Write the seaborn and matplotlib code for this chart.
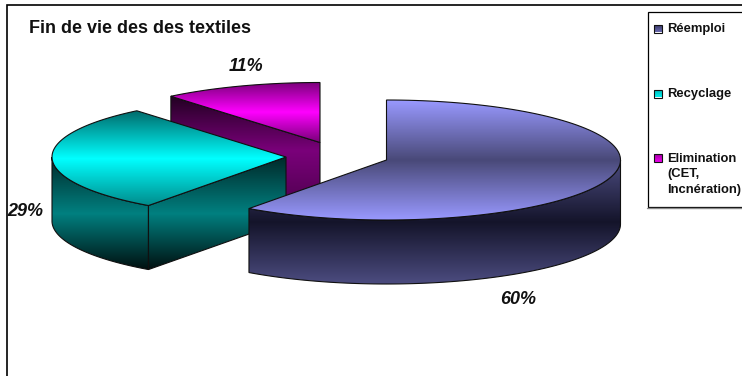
import numpy as np
import matplotlib
matplotlib.use("Agg")
import matplotlib.pyplot as plt
from matplotlib.patches import Polygon, Rectangle
import seaborn as sns

# Chart data
title = "Fin de vie des des textiles"
categories = ["Réemploi", "Recyclage", "Elimination\n(CET,\nIncnération)"]
shares = [60, 29, 11]
top_stops = [["#9999ff", "#494978", "#9999ff"],
             ["#006c6c", "#00ffff", "#008a8a"],
             ["#7a007a", "#ff00ff", "#7a007a"]]
side_stops = [["#4c4c80", "#14142a", "#4c4c80"],
              ["#002a2a", "#008080", "#000f0f"],
              ["#200020", "#7a007a", "#500050"]]
swatch_stops = [["#30305a", "#6a6ab0"], ["#00b0b0", "#00f0f0"], ["#a000a0", "#f000f0"]]

# Pie layout, in pixels of the 742x376 canvas
centers = [(386.5, 160), (286, 157), (320, 142.5)]
RX, RY, DEPTH = 234, 60, 64
label_pos = [(518, 299), (25, 211.5), (246, 66.5)]
legend_rows = [28.5, 93.5, 158]

sns.set_theme(style="white")
plt.rcParams["font.family"] = ["Liberation Sans", "DejaVu Sans"]

fig = plt.figure(figsize=(7.42, 3.76), dpi=100, facecolor="white")
ax = fig.add_axes([0, 0, 1, 1])
ax.axis("off")


def rim(center, a, b, n=120):
    """Points along the elliptical rim, angles clockwise from 12 o'clock."""
    t = np.radians(np.linspace(a, b, n))
    return np.column_stack([center[0] + RX * np.sin(t), center[1] - RY * np.cos(t)])


def shaded(points, stops, z, y_range=None, lw=0.8):
    """Fill a polygon with a vertical gradient and a thin outline."""
    pts = np.asarray(points)
    y0, y1 = y_range if y_range else (pts[:, 1].min(), pts[:, 1].max())
    cmap = sns.blend_palette(stops, n_colors=256, as_cmap=True)
    grad = np.linspace(0, 1, 256)[:, None]
    im = ax.imshow(grad, cmap=cmap, aspect="auto", zorder=z, interpolation="bilinear",
                   extent=(pts[:, 0].min(), pts[:, 0].max(), y1, y0))
    outline = Polygon(pts, closed=True, fc="none", ec="#101010", lw=lw, zorder=z + 0.1)
    ax.add_patch(outline)
    im.set_clip_path(outline)


def side_band(edge):
    """Extrude a top-face edge downwards to form a vertical wall."""
    return np.vstack([edge, edge[::-1] + [0, DEPTH]])


# Slice angles follow the shares, clockwise from the top
edges = np.concatenate([[0], np.cumsum(shares)]) * 3.6

# Elimination: the cut wall shows beneath the top face
c = centers[2]
a, b = edges[2], edges[3]
wall = np.vstack([rim(c, a, a, 1), [c]])
shaded(side_band(wall), side_stops[2], 1)
shaded(np.vstack([[c], rim(c, a, b)]), top_stops[2], 2)

# Recyclage: outer wall, front cut wall, then the top face
c = centers[1]
a, b = edges[1], edges[2]
ys = (c[1], c[1] + RY * 0.809 + DEPTH)
shaded(side_band(rim(c, a, 270)), side_stops[1], 3, ys)
shaded(side_band(np.vstack([rim(c, a, a, 1), [c]])), side_stops[1], 3, ys)
shaded(np.vstack([[c], rim(c, a, b)]), top_stops[1], 4)

# Réemploi: outer wall, then the top face
c = centers[0]
a, b = edges[0], edges[1]
shaded(side_band(rim(c, 90, b)), side_stops[0], 5, (c[1], c[1] + RY + DEPTH))
shaded(np.vstack([[c], rim(c, a, b)]), top_stops[0], 6, (c[1] - RY, c[1] + RY))

# Value labels
for share, (x, y) in zip(shares, label_pos):
    ax.text(x, y, f"{share}%", ha="center", va="center", fontsize=13,
            fontweight="bold", fontstyle="italic", color="#111111", zorder=8)

ax.text(29, 28.5, title, ha="left", va="center", fontsize=13,
        fontweight="bold", color="#111111", zorder=8)

# Chart frame, open on the right and bottom
ax.plot([6.5, 6.5, 742], [376, 4.5, 4.5], color="black", lw=1.2, zorder=9,
        solid_capstyle="butt", solid_joinstyle="miter")

# Legend box with a soft lower shadow
ax.add_patch(Rectangle((647.5, 11.5), 100, 195, fc="white", ec="black", lw=0.9, zorder=7))
ax.plot([647, 742], [207.5, 207.5], color="#8a8a8a", lw=1.0, zorder=7)

for name, stops, y in zip(categories, swatch_stops, legend_rows):
    shaded([(654, y - 4), (662, y - 4), (662, y + 4), (654, y + 4)], stops, 8)
    ax.text(667, y - 5.5, name, ha="left", va="top", fontsize=9.4, fontweight="bold",
            color="#111111", linespacing=1.42, zorder=8)

ax.set_xlim(0, 742)
ax.set_ylim(376, 0)
fig.savefig("out.png", dpi=100, facecolor="white")
